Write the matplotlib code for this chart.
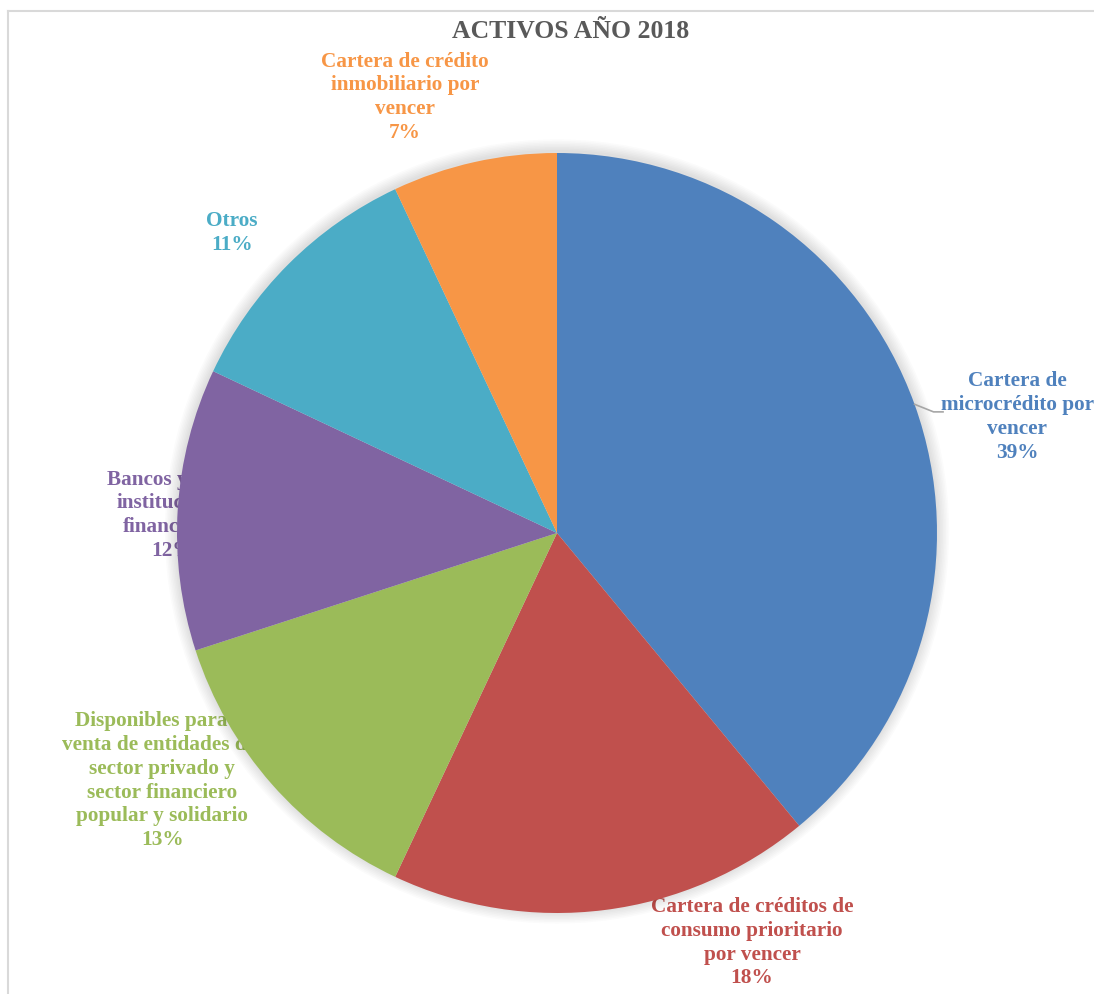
import matplotlib.pyplot as plt
from matplotlib.lines import Line2D
from matplotlib.patches import Circle
import numpy as np

# data (clockwise from 12 o'clock)
categories = [
    'Cartera de\nmicrocrédito por\nvencer',
    'Cartera de créditos de\nconsumo prioritario\npor vencer',
    'Disponibles para la\nventa de entidades del\nsector privado y\nsector financiero\npopular y solidario',
    'Bancos y otras\ninstituciones\nfinancieras',
    'Otros',
    'Cartera de crédito\ninmobiliario por\nvencer',
]
shares = [39, 18, 13, 12, 11, 7]
colors = ['#4F81BD', '#C0504D', '#9BBB59', '#8064A2', '#4BACC6', '#F79646']

# label centres, in units of the pie radius (layout only)
label_pos = [(1.211, 0.305), (0.513, -1.078), (-1.039, -0.652),
             (-1.011, 0.047), (-0.855, 0.79), (-0.40, 1.147)]

plt.rcParams['font.family'] = ['Liberation Serif', 'DejaVu Serif']

fig = plt.figure(figsize=(10.94, 9.94), dpi=100)
ax = fig.add_axes([0, 0, 1, 1])

wedges, _ = ax.pie(shares, colors=colors, startangle=90, counterclock=False,
                   radius=1.0, wedgeprops=dict(linewidth=0, zorder=3))

# soft glow round the pie
for i in range(8):
    ax.add_patch(Circle((0, 0.004), 1.0 + 0.004 * (i + 1), color='#000000',
                        alpha=0.015, lw=0, zorder=2))

for name, val, col, (x, y) in zip(categories, shares, colors, label_pos):
    ax.text(x, y, f'{name}\n{val}%', ha='center', va='center', color=col,
            fontsize=15.3, fontweight='bold', linespacing=1.25, zorder=1)

# leader line for the first label
w = wedges[0]
mid = np.deg2rad((w.theta1 + w.theta2) / 2)
x0, y0 = np.cos(mid), np.sin(mid)
ax.add_line(Line2D([x0, x0 + 0.05, x0 + 0.075], [y0, y0 - 0.02, y0 - 0.02],
                   color='#A6A6A6', lw=1.2, zorder=4))

ax.set_xlim(-557 / 380, (1094 - 557) / 380)
ax.set_ylim(-(994 - 533) / 380, 533 / 380)
ax.set_aspect('equal', adjustable='datalim')
ax.axis('off')

fig.text(571 / 1094, 1 - 31 / 994, 'ACTIVOS AÑO 2018', ha='center', va='center',
         fontsize=18.5, fontweight='bold', color='#595959')

# chart frame
fig.add_artist(Line2D([8 / 1094, 8 / 1094], [0, 1 - 11 / 994], color='#D9D9D9', lw=1.5))
fig.add_artist(Line2D([8 / 1094, 1], [1 - 11 / 994, 1 - 11 / 994], color='#D9D9D9', lw=1.5))

fig.savefig('out.png', dpi=100, facecolor='white')
